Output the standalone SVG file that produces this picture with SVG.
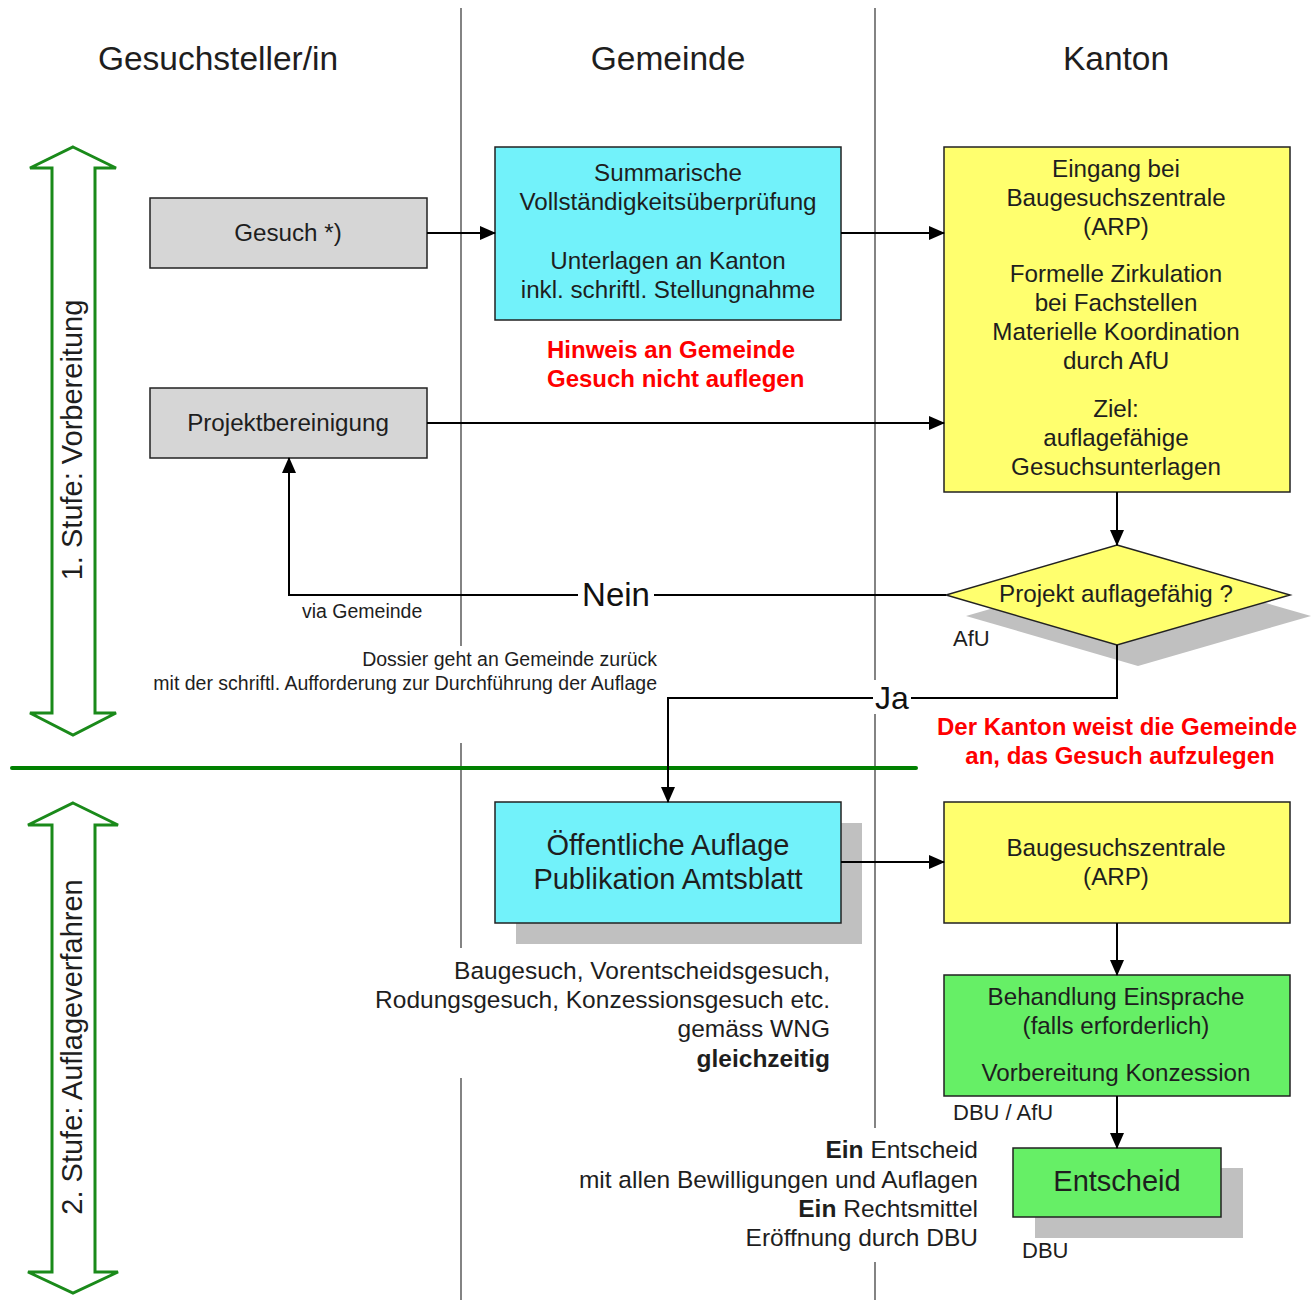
<svg xmlns="http://www.w3.org/2000/svg" width="1316" height="1300" viewBox="0 0 1316 1300">
<defs>
<marker id="ah" markerWidth="16" markerHeight="14" refX="15" refY="7" orient="auto" markerUnits="userSpaceOnUse" viewBox="0 0 16 14">
<path d="M0,0 L16,7 L0,14 Z" fill="#000"/>
</marker>
<style>
text{font-family:"Liberation Sans",Arial,sans-serif;fill:#1e1e1e}
.hdr{font-size:33.5px;text-anchor:middle}
.n{font-size:24.2px;text-anchor:middle}
.big{font-size:29px;text-anchor:middle}
.red{font-size:24px;font-weight:bold;fill:#ff0000}
.sm{font-size:19.5px}
.lbl{font-size:22px}
.note{font-size:24.5px;text-anchor:end}
.lane{stroke:#333;stroke-width:1.2;fill:none}
.box{stroke:#222;stroke-width:1.5}
.gray{fill:#d6d6d6}
.cyan{fill:#72f2fa}
.yel{fill:#ffff6e}
.grn{fill:#66ef66}
.shadow{fill:#c0c0c0}
.con{stroke:#000;stroke-width:2;fill:none}
.stage{fill:#fff;stroke:#1a8a1a;stroke-width:3}
</style>
</defs>
<rect width="1316" height="1300" fill="#fff"/>

<g id="lanes">
<path class="lane" d="M461,8 V646 M461,743 V948 M461,1078 V1300"/>
<path class="lane" d="M875,8 V680 M875,712 V1128 M875,1262 V1300"/>
</g>

<g id="headers">
<text class="hdr" x="218" y="70">Gesuchsteller/in</text>
<text class="hdr" x="668" y="70">Gemeinde</text>
<text class="hdr" x="1116" y="70">Kanton</text>
</g>

<g id="stage1">
<path class="stage" d="M73,147 L116,168 L95,168 L95,713 L116,713 L73,735 L30,713 L52,713 L52,168 L30,168 Z"/>
<text transform="translate(82,440) rotate(-90)" style="font-size:29px;text-anchor:middle">1. Stufe: Vorbereitung</text>
</g>
<g id="stage2">
<path class="stage" d="M73,803 L118,825 L95,825 L95,1272 L118,1272 L73,1293 L28,1272 L52,1272 L52,825 L28,825 Z"/>
<text transform="translate(82,1047) rotate(-90)" style="font-size:29px;text-anchor:middle">2. Stufe: Auflageverfahren</text>
</g>

<line id="divider" x1="12" y1="768" x2="916" y2="768" stroke="#008000" stroke-width="4" stroke-linecap="round"/>

<g id="gesuch">
<rect class="box gray" x="150" y="198" width="277" height="70"/>
<text class="n" x="288" y="241">Gesuch *)</text>
</g>

<g id="projektbereinigung">
<rect class="box gray" x="150" y="388" width="277" height="70"/>
<text class="n" x="288" y="431">Projektbereinigung</text>
</g>

<g id="pruefung">
<rect class="box cyan" x="495" y="147" width="346" height="173"/>
<text class="n" x="668" y="181">Summarische</text>
<text class="n" x="668" y="210">Vollständigkeitsüberprüfung</text>
<text class="n" x="668" y="269">Unterlagen an Kanton</text>
<text class="n" x="668" y="298">inkl. schriftl. Stellungnahme</text>
</g>

<g id="hinweis">
<text class="red" x="547" y="358">Hinweis an Gemeinde</text>
<text class="red" x="547" y="387">Gesuch nicht auflegen</text>
</g>

<g id="eingang">
<rect class="box yel" x="944" y="147" width="346" height="345"/>
<text class="n" x="1116" y="177">Eingang bei</text>
<text class="n" x="1116" y="206">Baugesuchszentrale</text>
<text class="n" x="1116" y="235">(ARP)</text>
<text class="n" x="1116" y="282">Formelle Zirkulation</text>
<text class="n" x="1116" y="311">bei Fachstellen</text>
<text class="n" x="1116" y="340">Materielle Koordination</text>
<text class="n" x="1116" y="369">durch AfU</text>
<text class="n" x="1116" y="417">Ziel:</text>
<text class="n" x="1116" y="446">auflagefähige</text>
<text class="n" x="1116" y="475">Gesuchsunterlagen</text>
</g>

<g id="entscheidung">
<path class="shadow" d="M1138,566 L1311,616 L1138,666 L966,616 Z"/>
<path class="box yel" d="M1117,545 L1290,595 L1117,645 L946,595 Z"/>
<text class="n" x="1116" y="602">Projekt auflagefähig ?</text>
<text class="lbl" x="953" y="646">AfU</text>
</g>

<g id="notes1">
<text class="sm" x="302" y="618">via Gemeinde</text>
<text class="sm" x="657" y="666" text-anchor="end">Dossier geht an Gemeinde zurück</text>
<text class="sm" x="657" y="690" text-anchor="end">mit der schriftl. Aufforderung zur Durchführung der Auflage</text>
</g>

<g id="kanton-weist">
<text class="red" x="1117" y="735" text-anchor="middle">Der Kanton weist die Gemeinde</text>
<text class="red" x="1120" y="764" text-anchor="middle">an, das Gesuch aufzulegen</text>
</g>

<g id="auflage">
<rect class="shadow" x="516" y="823" width="346" height="121"/>
<rect class="box cyan" x="495" y="802" width="346" height="121"/>
<text class="big" x="668" y="855">Öffentliche Auflage</text>
<text class="big" x="668" y="889">Publikation Amtsblatt</text>
</g>

<g id="notes2">
<text class="note" x="830" y="979">Baugesuch, Vorentscheidsgesuch,</text>
<text class="note" x="830" y="1008">Rodungsgesuch, Konzessionsgesuch etc.</text>
<text class="note" x="830" y="1037">gemäss WNG</text>
<text class="note" x="830" y="1067" font-weight="bold">gleichzeitig</text>
</g>

<g id="zentrale">
<rect class="box yel" x="944" y="802" width="346" height="121"/>
<text class="n" x="1116" y="856">Baugesuchszentrale</text>
<text class="n" x="1116" y="885">(ARP)</text>
</g>

<g id="einsprache">
<rect class="box grn" x="944" y="975" width="346" height="121"/>
<text class="n" x="1116" y="1005">Behandlung Einsprache</text>
<text class="n" x="1116" y="1034">(falls erforderlich)</text>
<text class="n" x="1116" y="1081">Vorbereitung Konzession</text>
<text class="lbl" x="953" y="1120">DBU / AfU</text>
</g>

<g id="entscheid">
<rect class="shadow" x="1035" y="1168" width="208" height="70"/>
<rect class="box grn" x="1013" y="1148" width="208" height="69"/>
<text class="big" x="1117" y="1191">Entscheid</text>
<text class="lbl" x="1022" y="1258">DBU</text>
</g>

<g id="notes3">
<text class="note" x="978" y="1158"><tspan font-weight="bold">Ein</tspan> Entscheid</text>
<text class="note" x="978" y="1188">mit allen Bewilligungen und Auflagen</text>
<text class="note" x="978" y="1217"><tspan font-weight="bold">Ein</tspan> Rechtsmittel</text>
<text class="note" x="978" y="1246">Eröffnung durch DBU</text>
</g>

<g id="connectors">
<line class="con" x1="427" y1="233" x2="495" y2="233" marker-end="url(#ah)"/>
<line class="con" x1="841" y1="233" x2="944" y2="233" marker-end="url(#ah)"/>
<line class="con" x1="427" y1="423" x2="944" y2="423" marker-end="url(#ah)"/>
<line class="con" x1="1117" y1="492" x2="1117" y2="545" marker-end="url(#ah)"/>
<path class="con" d="M946,595 H289 V458" marker-end="url(#ah)"/>
<path class="con" d="M1117,645 V698 H668 V802" marker-end="url(#ah)"/>
<line class="con" x1="841" y1="862" x2="944" y2="862" marker-end="url(#ah)"/>
<line class="con" x1="1117" y1="923" x2="1117" y2="975" marker-end="url(#ah)"/>
<line class="con" x1="1117" y1="1096" x2="1117" y2="1148" marker-end="url(#ah)"/>
<rect x="578" y="578" width="76" height="34" fill="#fff"/>
<text x="616" y="606" style="font-size:33px;text-anchor:middle;fill:#111">Nein</text>
<rect x="873" y="682" width="38" height="32" fill="#fff"/>
<text x="892" y="709" style="font-size:32px;text-anchor:middle;fill:#111">Ja</text>
</g>
</svg>
